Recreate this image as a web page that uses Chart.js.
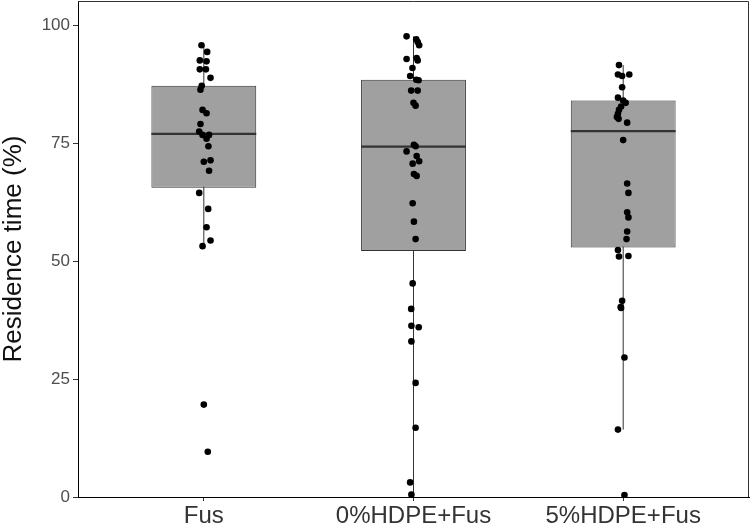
<!DOCTYPE html>
<html>
<head>
<meta charset="utf-8">
<script src="https://cdn.jsdelivr.net/npm/chart.js@4"></script>
<style>
  html, body { margin: 0; padding: 0; background: #fff; }
</style>
</head>
<body>
<canvas id="boxChart" width="750" height="526"></canvas>
<script>
const groups = ['Fus', '0%HDPE+Fus', '5%HDPE+Fus'];
const yTicks = [0, 25, 50, 75, 100];

// box summary
const whiskerLow = [53.2, 0.5, 14.3];
const q1 = [65.6, 52.2, 52.9];
const median = [77.0, 74.3, 77.6];
const q3 = [87.2, 88.5, 84.1];
const whiskerHigh = [95.8, 97.7, 91.6];

// single runs per group, with the horizontal jitter seen in the plot (category units)
const fusVals = [95.8, 94.4, 92.6, 92.4, 90.7, 90.7, 88.9, 87.2, 86.4, 82.1, 81.4, 79.1, 77.5, 76.8,
  76.8, 76.0, 74.4, 71.1, 71.4, 69.2, 64.5, 61.1, 57.2, 54.4, 53.2, 19.6, 9.6];
const fusJitter = [-0.011, 0.016, -0.019, 0.013, -0.019, 0.01, 0.032, -0.01, -0.016, -0.006, 0.013, -0.016, -0.022, -0.006,
  0.025, 0.013, 0.022, 0, 0.032, 0.025, -0.022, 0.021, 0.013, 0.032, -0.006, 0, 0.019];

const hdpe0Vals = [97.7, 97.1, 96.5, 95.8, 92.9, 93.1, 92.6, 91.0, 89.3, 88.5, 88.4, 86.2, 86.2, 83.6, 83.0,
  74.7, 74.4, 73.3, 72.3, 71.2, 70.7, 68.5, 68.1, 62.3, 58.4, 54.7, 45.3, 39.9, 36.3, 36.0, 33.0,
  24.2, 14.7, 3.1, 0.5];
const hdpe0Jitter = [-0.033, 0.013, 0.02, 0.027, -0.033, 0.015, 0.02, -0.005, -0.016, 0.013, 0.024, -0.011, 0.02, 0, 0.01,
  0.002, 0.01, -0.033, 0.015, 0.027, -0.004, 0.002, 0.015, -0.004, 0.002, 0.01, -0.004, -0.011, -0.01, 0.025, -0.01,
  0.01, 0.01, -0.016, -0.01];

const hdpe5Vals = [91.6, 89.6, 89.3, 89.6, 86.9, 84.7, 84.1, 83.6, 82.8, 82.1, 81.3, 80.6, 80.2, 79.4, 75.7,
  66.5, 64.5, 60.4, 59.3, 56.3, 54.7, 52.4, 51.0, 51.1, 41.6, 40.3, 40.1, 29.6, 14.3, 0.4];
const hdpe5Jitter = [-0.02, -0.025, -0.005, 0.029, -0.005, -0.025, 0, 0.012, -0.01, -0.02, -0.025, -0.03, -0.022, 0.019, 0,
  0.019, 0.025, 0.019, 0.025, 0.019, 0.016, -0.025, -0.02, 0.025, -0.005, -0.012, -0.01, 0.006, -0.025, 0.006];

const groupVals = [fusVals, hdpe0Vals, hdpe5Vals];
const groupJitter = [fusJitter, hdpe0Jitter, hdpe5Jitter];

const FONT = 'Liberation Sans, Arial, Helvetica, sans-serif';

const whiskerData = [];
const medianData = [];
const pointData = [];
groups.forEach((g, i) => {
  whiskerData.push({ x: i + 1, y: whiskerLow[i] }, { x: i + 1, y: whiskerHigh[i] }, { x: i + 1.5, y: null });
  medianData.push({ x: i + 0.75, y: median[i] }, { x: i + 1.25, y: median[i] }, { x: i + 1.5, y: null });
  groupVals[i].forEach((v, k) => pointData.push({ x: i + 1 + groupJitter[i][k], y: v }));
});

// top and right edge of the panel
const panelFrame = {
  id: 'panelFrame',
  afterDraw(chart) {
    const { ctx, chartArea: a } = chart;
    ctx.save();
    ctx.strokeStyle = '#333';
    ctx.lineWidth = 1;
    ctx.beginPath();
    ctx.moveTo(a.left, a.top + 0.5);
    ctx.lineTo(a.right - 0.5, a.top + 0.5);
    ctx.lineTo(a.right - 0.5, a.bottom);
    ctx.stroke();
    ctx.restore();
  }
};

const ctx = document.getElementById('boxChart').getContext('2d');
const chart = new Chart(ctx, {
  type: 'bar',
  data: {
    datasets: [
      {
        type: 'scatter',
        data: pointData,
        backgroundColor: '#000',
        borderWidth: 0,
        pointRadius: 3.3,
        order: 0
      },
      {
        type: 'line',
        data: medianData,
        borderColor: '#333',
        borderWidth: 2.2,
        pointRadius: 0,
        spanGaps: false,
        order: 1
      },
      {
        type: 'bar',
        data: groups.map((g, i) => ({ x: i + 1, y: [q1[i], q3[i]] })),
        backgroundColor: '#a0a0a0',
        borderColor: '#333',
        borderWidth: 1,
        borderSkipped: false,
        barPercentage: 0.5,
        categoryPercentage: 1,
        order: 2
      },
      {
        type: 'line',
        data: whiskerData,
        borderColor: '#333',
        borderWidth: 1,
        pointRadius: 0,
        spanGaps: false,
        order: 3
      }
    ]
  },
  options: {
    responsive: false,
    animation: false,
    devicePixelRatio: 1,
    layout: { autoPadding: false, padding: { top: 1, right: 1, left: 0, bottom: 0 } },
    plugins: { legend: { display: false }, tooltip: { enabled: false } },
    scales: {
      x: {
        type: 'linear',
        min: 0.4,
        max: 3.6,
        offset: false,
        afterBuildTicks: (s) => { s.ticks = groups.map((g, i) => ({ value: i + 1 })); },
        afterFit: (s) => { s.height = 29; s.paddingLeft = 0; s.paddingRight = 0; },
        grid: { display: true, offset: false, drawOnChartArea: false, drawTicks: true, tickLength: 4, color: '#333' },
        border: { display: true, color: '#000', width: 1 },
        ticks: {
          autoSkip: false,
          maxRotation: 0,
          padding: 1,
          color: '#333',
          font: { family: FONT, size: 24 },
          callback: (v) => groups[Math.round(v) - 1]
        }
      },
      y: {
        type: 'linear',
        min: 0,
        max: 105.2,
        afterBuildTicks: (s) => { s.ticks = yTicks.map(v => ({ value: v })); },
        afterFit: (s) => { s.width = 78; s.paddingTop = 0; s.paddingBottom = 0; },
        grid: { display: true, drawOnChartArea: false, drawTicks: true, tickLength: 5, color: '#333' },
        border: { display: true, color: '#000', width: 1 },
        ticks: {
          padding: 3,
          color: '#4d4d4d',
          font: { family: FONT, size: 17 }
        },
        title: {
          display: true,
          text: 'Residence time (%)',
          color: '#111',
          padding: { top: 1, bottom: 0 },
          font: { family: FONT, size: 26, lineHeight: 1 }
        }
      }
    }
  },
  plugins: [panelFrame]
});
</script>
</body>
</html>
